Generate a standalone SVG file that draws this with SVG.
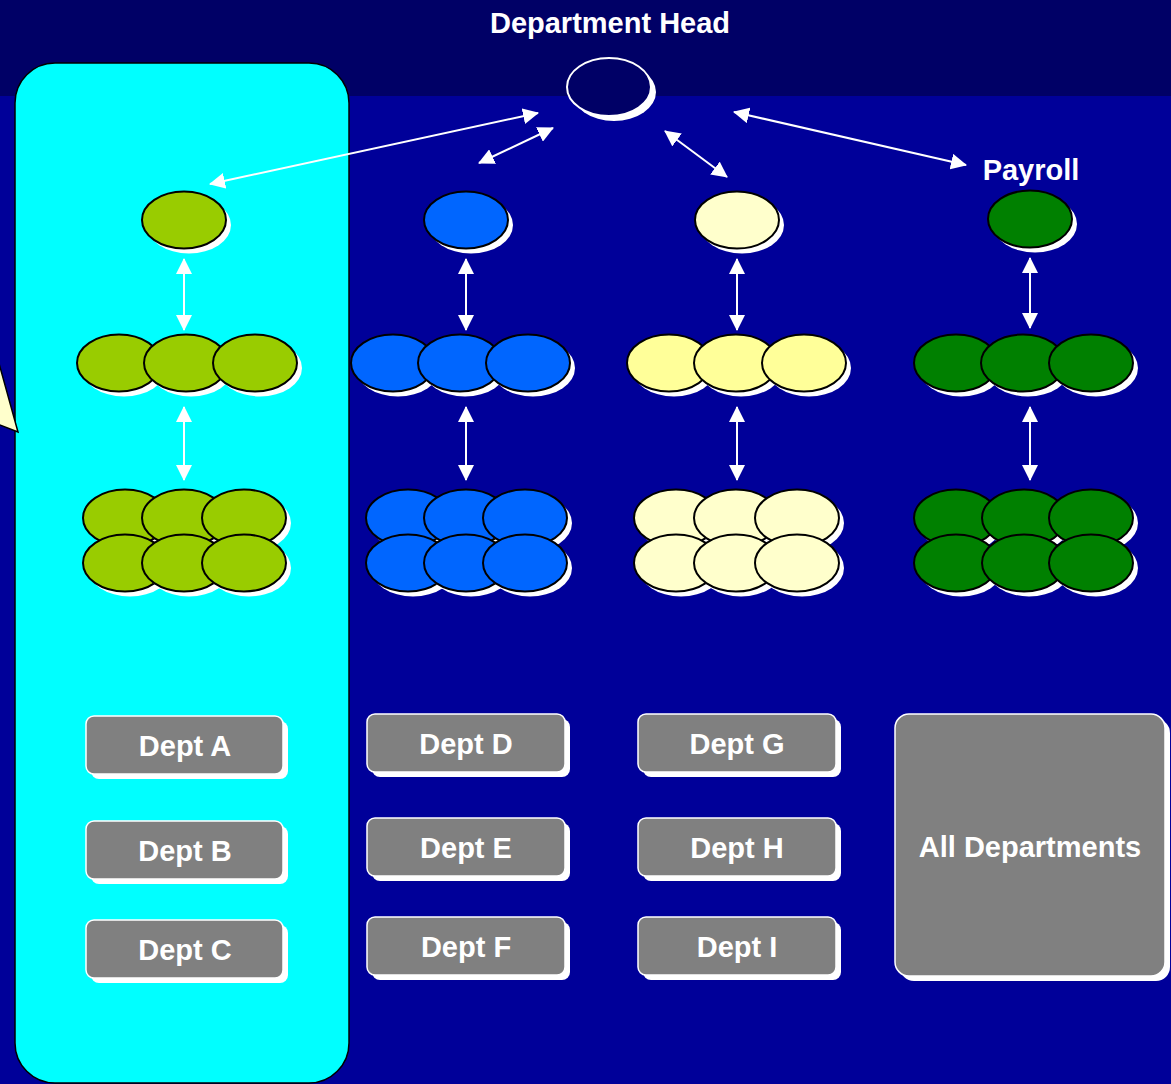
<svg xmlns="http://www.w3.org/2000/svg" width="1171" height="1084" viewBox="0 0 1171 1084">
  <defs>
    <style>
      .lbl { font-family: "Liberation Sans", Arial, sans-serif; font-weight: bold; font-size: 29px; fill: #ffffff; text-anchor: middle; }
      .shadow { fill: #ffffff; }
      .node { stroke: #000000; stroke-width: 2; }
      .lime { fill: #99cc00; }
      .blue { fill: #0066ff; }
      .cream { fill: #ffffcc; }
      .pale { fill: #ffff99; }
      .green { fill: #008000; }
      .box { fill: #808080; stroke: #ffffff; stroke-width: 1.5; }
      .link { stroke: #ffffff; stroke-width: 2; fill: none; marker-start: url(#head); marker-end: url(#head); }
    </style>
    <marker id="head" viewBox="0 0 16 16" refX="15" refY="8" markerWidth="16" markerHeight="16" markerUnits="userSpaceOnUse" orient="auto-start-reverse">
      <path d="M0,0 L16,8 L0,16 z" fill="#ffffff"/>
    </marker>
    <ellipse id="e" cx="0" cy="0" rx="42" ry="28.5"/>
  </defs>

  <!-- backdrop -->
  <rect x="0" y="0" width="1171" height="1084" fill="#000099"/>
  <rect x="0" y="0" width="1171" height="96" fill="#000066"/>

  <!-- highlighted column -->
  <rect id="panel" x="15" y="63" width="334" height="1020" rx="40" ry="40" fill="#00ffff" stroke="#000000" stroke-width="1.5"/>

  <!-- callout pointer -->
  <polygon id="callout" points="-5,349 18,432 -5,423" fill="#ffffcc" stroke="#000000" stroke-width="1.5"/>

  <!-- titles -->
  <text class="lbl" x="610" y="33">Department Head</text>
  <text class="lbl" x="1031" y="180">Payroll</text>

  <!-- head node -->
  <g id="head-node">
    <ellipse cx="614" cy="92" rx="42" ry="29" fill="#ffffff"/>
    <ellipse cx="609" cy="87" rx="42" ry="29" fill="#000066" stroke="#ffffff" stroke-width="2"/>
  </g>

  <!-- connectors -->
  <g id="connectors">
    <line class="link" x1="210" y1="184" x2="538" y2="113"/>
    <line class="link" x1="479" y1="163" x2="553" y2="128"/>
    <line class="link" x1="665" y1="131" x2="727" y2="177"/>
    <line class="link" x1="734" y1="112" x2="966" y2="165"/>

    <line class="link" x1="184" y1="259" x2="184" y2="330"/>
    <line class="link" x1="466" y1="259" x2="466" y2="330"/>
    <line class="link" x1="737" y1="259" x2="737" y2="330"/>
    <line class="link" x1="1030" y1="258" x2="1030" y2="328"/>

    <line class="link" x1="184" y1="407" x2="184" y2="480"/>
    <line class="link" x1="466" y1="407" x2="466" y2="480"/>
    <line class="link" x1="737" y1="407" x2="737" y2="480"/>
    <line class="link" x1="1030" y1="407" x2="1030" y2="480"/>
  </g>

  <!-- column A -->
  <g id="col-a-top">
    <use href="#e" class="shadow" x="189" y="225"/>
    <use href="#e" class="node lime" x="184" y="220"/>
  </g>
  <g id="col-a-mid">
    <use href="#e" class="shadow" x="124" y="368"/>
    <use href="#e" class="node lime" x="119" y="363"/>
    <use href="#e" class="shadow" x="191" y="368"/>
    <use href="#e" class="node lime" x="186" y="363"/>
    <use href="#e" class="shadow" x="260" y="368"/>
    <use href="#e" class="node lime" x="255" y="363"/>
  </g>
  <g id="col-a-base">
    <use href="#e" class="shadow" x="130" y="523"/>
    <use href="#e" class="node lime" x="125" y="518"/>
    <use href="#e" class="shadow" x="189" y="523"/>
    <use href="#e" class="node lime" x="184" y="518"/>
    <use href="#e" class="shadow" x="249" y="523"/>
    <use href="#e" class="node lime" x="244" y="518"/>
    <use href="#e" class="shadow" x="130" y="568"/>
    <use href="#e" class="node lime" x="125" y="563"/>
    <use href="#e" class="shadow" x="189" y="568"/>
    <use href="#e" class="node lime" x="184" y="563"/>
    <use href="#e" class="shadow" x="249" y="568"/>
    <use href="#e" class="node lime" x="244" y="563"/>
  </g>

  <!-- column D -->
  <g id="col-d-top">
    <use href="#e" class="shadow" x="471" y="225"/>
    <use href="#e" class="node blue" x="466" y="220"/>
  </g>
  <g id="col-d-mid">
    <use href="#e" class="shadow" x="398" y="368"/>
    <use href="#e" class="node blue" x="393" y="363"/>
    <use href="#e" class="shadow" x="465" y="368"/>
    <use href="#e" class="node blue" x="460" y="363"/>
    <use href="#e" class="shadow" x="533" y="368"/>
    <use href="#e" class="node blue" x="528" y="363"/>
  </g>
  <g id="col-d-base">
    <use href="#e" class="shadow" x="413" y="523"/>
    <use href="#e" class="node blue" x="408" y="518"/>
    <use href="#e" class="shadow" x="471" y="523"/>
    <use href="#e" class="node blue" x="466" y="518"/>
    <use href="#e" class="shadow" x="530" y="523"/>
    <use href="#e" class="node blue" x="525" y="518"/>
    <use href="#e" class="shadow" x="413" y="568"/>
    <use href="#e" class="node blue" x="408" y="563"/>
    <use href="#e" class="shadow" x="471" y="568"/>
    <use href="#e" class="node blue" x="466" y="563"/>
    <use href="#e" class="shadow" x="530" y="568"/>
    <use href="#e" class="node blue" x="525" y="563"/>
  </g>

  <!-- column G -->
  <g id="col-g-top">
    <use href="#e" class="shadow" x="742" y="225"/>
    <use href="#e" class="node cream" x="737" y="220"/>
  </g>
  <g id="col-g-mid">
    <use href="#e" class="shadow" x="674" y="368"/>
    <use href="#e" class="node pale" x="669" y="363"/>
    <use href="#e" class="shadow" x="741" y="368"/>
    <use href="#e" class="node pale" x="736" y="363"/>
    <use href="#e" class="shadow" x="809" y="368"/>
    <use href="#e" class="node pale" x="804" y="363"/>
  </g>
  <g id="col-g-base">
    <use href="#e" class="shadow" x="681" y="523"/>
    <use href="#e" class="node cream" x="676" y="518"/>
    <use href="#e" class="shadow" x="741" y="523"/>
    <use href="#e" class="node cream" x="736" y="518"/>
    <use href="#e" class="shadow" x="802" y="523"/>
    <use href="#e" class="node cream" x="797" y="518"/>
    <use href="#e" class="shadow" x="681" y="568"/>
    <use href="#e" class="node cream" x="676" y="563"/>
    <use href="#e" class="shadow" x="741" y="568"/>
    <use href="#e" class="node cream" x="736" y="563"/>
    <use href="#e" class="shadow" x="802" y="568"/>
    <use href="#e" class="node cream" x="797" y="563"/>
  </g>

  <!-- payroll column -->
  <g id="payroll-top">
    <use href="#e" class="shadow" x="1035" y="224"/>
    <use href="#e" class="node green" x="1030" y="219"/>
  </g>
  <g id="payroll-mid">
    <use href="#e" class="shadow" x="961" y="368"/>
    <use href="#e" class="node green" x="956" y="363"/>
    <use href="#e" class="shadow" x="1028" y="368"/>
    <use href="#e" class="node green" x="1023" y="363"/>
    <use href="#e" class="shadow" x="1096" y="368"/>
    <use href="#e" class="node green" x="1091" y="363"/>
  </g>
  <g id="payroll-base">
    <use href="#e" class="shadow" x="961" y="523"/>
    <use href="#e" class="node green" x="956" y="518"/>
    <use href="#e" class="shadow" x="1029" y="523"/>
    <use href="#e" class="node green" x="1024" y="518"/>
    <use href="#e" class="shadow" x="1096" y="523"/>
    <use href="#e" class="node green" x="1091" y="518"/>
    <use href="#e" class="shadow" x="961" y="568"/>
    <use href="#e" class="node green" x="956" y="563"/>
    <use href="#e" class="shadow" x="1029" y="568"/>
    <use href="#e" class="node green" x="1024" y="563"/>
    <use href="#e" class="shadow" x="1096" y="568"/>
    <use href="#e" class="node green" x="1091" y="563"/>
  </g>

  <!-- department boxes -->
  <g id="dept-a">
    <rect x="91" y="721" width="197" height="58" rx="8" class="shadow"/>
    <rect x="86" y="716" width="197" height="58" rx="8" class="box"/>
    <text class="lbl" x="185" y="756">Dept A</text>
  </g>
  <g id="dept-b">
    <rect x="91" y="826" width="197" height="58" rx="8" class="shadow"/>
    <rect x="86" y="821" width="197" height="58" rx="8" class="box"/>
    <text class="lbl" x="185" y="861">Dept B</text>
  </g>
  <g id="dept-c">
    <rect x="91" y="925" width="197" height="58" rx="8" class="shadow"/>
    <rect x="86" y="920" width="197" height="58" rx="8" class="box"/>
    <text class="lbl" x="185" y="960">Dept C</text>
  </g>
  <g id="dept-d">
    <rect x="372" y="719" width="198" height="58" rx="8" class="shadow"/>
    <rect x="367" y="714" width="198" height="58" rx="8" class="box"/>
    <text class="lbl" x="466" y="754">Dept D</text>
  </g>
  <g id="dept-e">
    <rect x="372" y="823" width="198" height="58" rx="8" class="shadow"/>
    <rect x="367" y="818" width="198" height="58" rx="8" class="box"/>
    <text class="lbl" x="466" y="858">Dept E</text>
  </g>
  <g id="dept-f">
    <rect x="372" y="922" width="198" height="58" rx="8" class="shadow"/>
    <rect x="367" y="917" width="198" height="58" rx="8" class="box"/>
    <text class="lbl" x="466" y="957">Dept F</text>
  </g>
  <g id="dept-g">
    <rect x="643" y="719" width="198" height="58" rx="8" class="shadow"/>
    <rect x="638" y="714" width="198" height="58" rx="8" class="box"/>
    <text class="lbl" x="737" y="754">Dept G</text>
  </g>
  <g id="dept-h">
    <rect x="643" y="823" width="198" height="58" rx="8" class="shadow"/>
    <rect x="638" y="818" width="198" height="58" rx="8" class="box"/>
    <text class="lbl" x="737" y="858">Dept H</text>
  </g>
  <g id="dept-i">
    <rect x="643" y="922" width="198" height="58" rx="8" class="shadow"/>
    <rect x="638" y="917" width="198" height="58" rx="8" class="box"/>
    <text class="lbl" x="737" y="957">Dept I</text>
  </g>
  <g id="dept-all">
    <rect x="900" y="719" width="270" height="262" rx="14" class="shadow"/>
    <rect x="895" y="714" width="270" height="262" rx="14" class="box"/>
    <text class="lbl" x="1030" y="857">All Departments</text>
  </g>
</svg>
